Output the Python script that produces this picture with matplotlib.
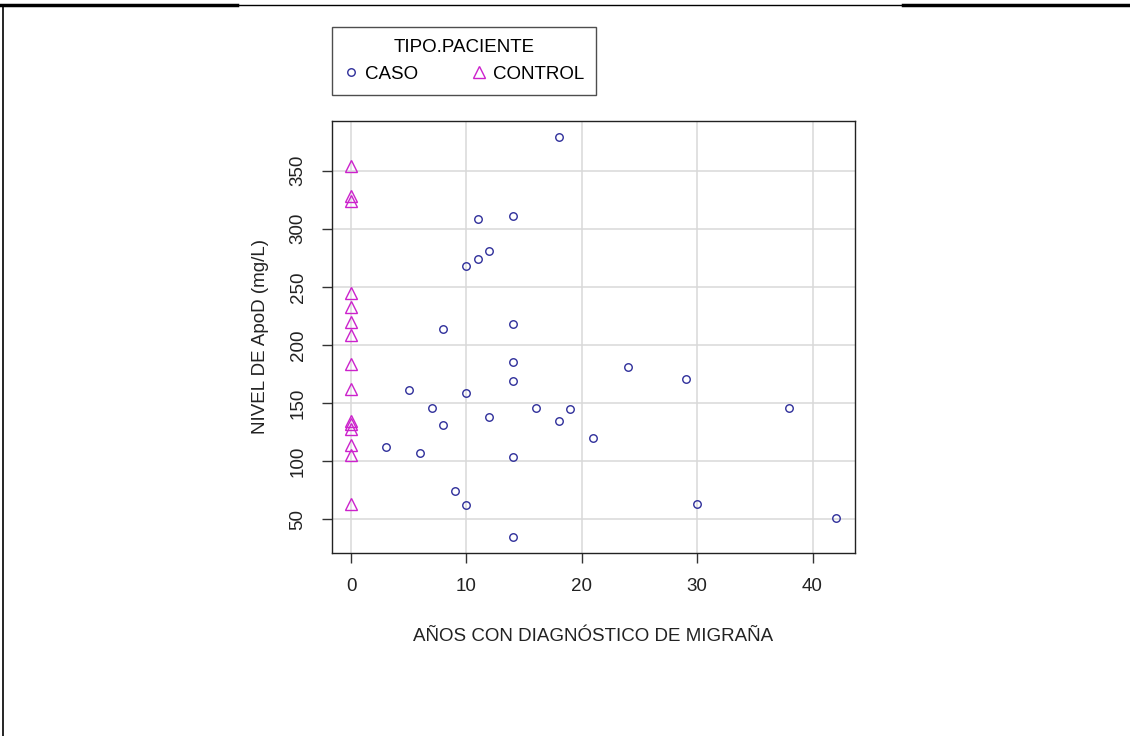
import matplotlib
matplotlib.use("Agg")
import matplotlib.pyplot as plt
from matplotlib.lines import Line2D

plt.rcParams['font.family'] = ['Liberation Sans', 'DejaVu Sans']

# CASO: years with migraine diagnosis vs ApoD level
caso_x = [18, 11, 14, 12, 11, 10, 8, 14, 14, 24, 29, 14, 5, 10, 7, 16, 19, 38,
          12, 18, 8, 21, 3, 6, 14, 9, 10, 30, 42, 14]
caso_y = [379, 308, 311, 281, 274, 268, 214, 218, 185, 181, 171, 169, 161, 159,
          146, 146, 145, 146, 138, 135, 131, 120, 112, 107, 104, 74, 62, 63, 51, 35]

# CONTROL: all at 0 years
control_y = [354, 328, 324, 245, 233, 220, 209, 184, 162, 135, 132, 128, 114, 105, 63]
control_x = [0] * len(control_y)

x_ticks = [0, 10, 20, 30, 40]
y_ticks = [50, 100, 150, 200, 250, 300, 350]

fig = plt.figure(figsize=(11.3, 7.36), dpi=100)
ax = fig.add_axes([0.2935, 0.249, 0.4631, 0.5866])

# R style padding of 4%
xmin, xmax = 0, 42
ymin, ymax = min(caso_y + control_y), max(caso_y + control_y)
ax.set_xlim(xmin - 0.04 * (xmax - xmin), xmax + 0.04 * (xmax - xmin))
ax.set_ylim(ymin - 0.04 * (ymax - ymin), ymax + 0.04 * (ymax - ymin))

ax.set_xticks(x_ticks)
ax.set_yticks(y_ticks)
ax.grid(True, color='#d9d9d9', lw=1.1)
ax.set_axisbelow(True)

circ_col = '#2e2e9a'
tri_col = '#cc22cc'
ax.plot(caso_x, caso_y, 'o', ms=5.4, mfc='none', mec=circ_col, mew=1.0, zorder=3)
ax.plot(control_x, control_y, '^', ms=8.5, mfc='none', mec=tri_col, mew=1.0, zorder=3)

for s in ax.spines.values():
    s.set_color('#222222')
    s.set_linewidth(1.0)

fs = 13.5
ax.tick_params(axis='both', direction='out', length=7, width=1, color='#333333',
               labelsize=fs, labelcolor='#222222')
ax.tick_params(axis='x', pad=11)
ax.tick_params(axis='y', pad=11)
for lab in ax.get_yticklabels():
    lab.set_rotation(90)
    lab.set_va('center')

ax.set_xlabel('AÑOS CON DIAGNÓSTICO DE MIGRAÑA', fontsize=fs, color='#222222', labelpad=24)
ax.set_ylabel('NIVEL DE ApoD (mg/L)', fontsize=fs, color='#222222', labelpad=15)

handles = [Line2D([], [], marker='o', ls='none', ms=5.4, mfc='none', mec=circ_col, mew=1.0),
           Line2D([], [], marker='^', ls='none', ms=8, mfc='none', mec=tri_col, mew=1.0)]
leg = fig.legend(handles, ['CASO', 'CONTROL'], title='TIPO.PACIENTE', ncol=2,
                 loc='upper left', bbox_to_anchor=(0.2938, 0.963), borderaxespad=0,
                 fontsize=fs, title_fontsize=fs, frameon=True, fancybox=False,
                 borderpad=0.65, handletextpad=0.4, columnspacing=2.9, handlelength=0.7)
leg.get_frame().set_edgecolor('#222222')
leg.get_frame().set_linewidth(1.0)

# partial outer frame
fig.add_artist(Line2D([0, 0.21], [0.993, 0.993], color='black', lw=2.5, transform=fig.transFigure))
fig.add_artist(Line2D([0.21, 0.799], [0.993, 0.993], color='black', lw=1.0, transform=fig.transFigure))
fig.add_artist(Line2D([0.799, 1], [0.993, 0.993], color='black', lw=2.5, transform=fig.transFigure))
fig.add_artist(Line2D([0.003, 0.003], [0, 0.993], color='black', lw=1.2, transform=fig.transFigure))

fig.savefig('out.png', dpi=100)
